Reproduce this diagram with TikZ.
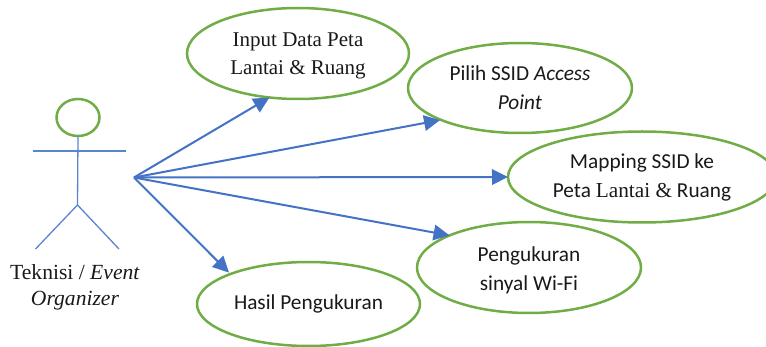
\documentclass[tikz,border=0pt]{standalone}
\usepackage{fontspec}
\setmainfont{Liberation Serif}
\newfontfamily\carlitofont{Carlito}
\usetikzlibrary{shapes.geometric,arrows.meta}
\definecolor{ugreen}{HTML}{70AD47}
\definecolor{ublue}{HTML}{4472C4}
\definecolor{lblue}{HTML}{5B84CF}
\tikzset{
 x=1pt,y=-1pt,
 usecase/.style={ellipse,draw=ugreen,line width=2.5pt,inner sep=0pt,outer sep=0pt,align=center,text=black!90},
 tm/.style={font=\fontsize{21}{28.5}\selectfont},
 cb/.style={font=\fontsize{21.3}{29}\selectfont\carlitofont},
 limb/.style={draw=lblue,line width=1.3pt},
 flow/.style={draw=ublue,line width=2pt,-{Triangle[length=16pt,width=15.5pt]}},
}
\begin{document}
\begin{tikzpicture}
\useasboundingbox (0,0) rectangle (766,347);
\clip (0,0) rectangle (766,347);
\node[usecase,tm,minimum width=222pt,minimum height=91pt] (e1) at (298,53.5) {\rule{0pt}{18.5pt}Input Data Peta\\Lantai \& Ruang};
\node[usecase,cb,minimum width=224pt,minimum height=90pt] (e2) at (520,88) {Pilih SSID \textit{Access}\\\textit{Point}};
\node[usecase,cb,minimum width=268pt,minimum height=91pt] (e3) at (642,177) {Mapping SSID ke\\Peta {\rmfamily Lantai \&} Ruang};
\node[usecase,cb,minimum width=224pt,minimum height=91pt] (e4) at (529,267.5) {\rule{0pt}{20pt}Pengukuran\\sinyal Wi-Fi};
\node[usecase,cb,minimum width=223pt,minimum height=84pt] (e5) at (308.5,304) {Hasil Pengukuran};
\node[ellipse,draw=ugreen,line width=2.5pt,inner sep=0pt,outer sep=0pt,minimum width=43pt,minimum height=37pt] (head) at (78,117.5) {};
\coordinate (hip) at (77.5,205);
\coordinate (armL) at (33,151);
\coordinate (armR) at (126,151);
\coordinate (footL) at (35.5,249);
\coordinate (footR) at (119,249);
\coordinate (origin) at (134,177.5);
\draw[limb] (head.south) -- (hip);
\draw[limb] (armL) -- (armR);
\draw[limb] (footL) -- (hip) -- (footR);
\node[align=center,inner sep=0pt,text=black!90,font=\fontsize{21.6}{26}\selectfont] (actor) at (75,287.5) {Teknisi / \textit{Event}\\\textit{Organizer}};
\draw[flow] (origin) -- (e1.237);
\draw[flow,shorten >=1pt] (origin) -- (e2.202);
\draw[flow] (origin) -- (e3.west);
\draw[flow] (origin) -- (e4.158);
\draw[flow,shorten >=2pt] (origin) -- (e5.159);
\end{tikzpicture}
\end{document}
